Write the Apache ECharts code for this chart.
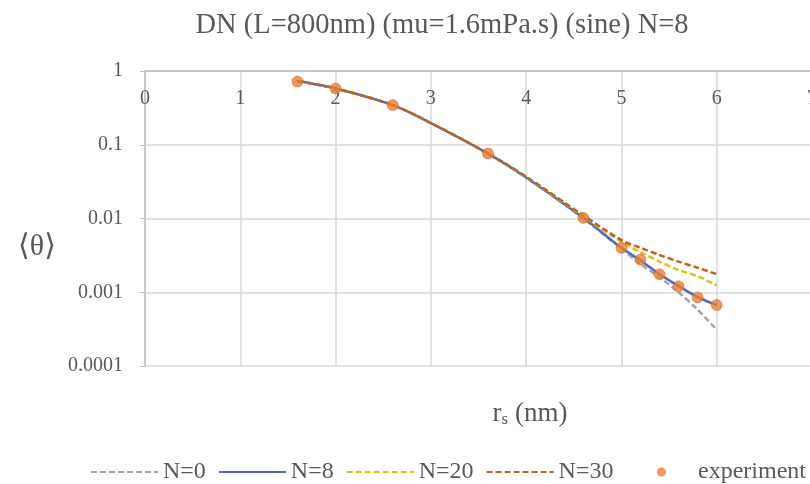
<!DOCTYPE html>
<html>
<head>
<meta charset="utf-8">
<script src="https://cdn.jsdelivr.net/npm/echarts@6/dist/echarts.min.js"></script>
<style>
  html, body { margin: 0; padding: 0; background: #fff; }
  #chart { width: 810px; height: 484px; }
</style>
</head>
<body>
<div id="chart"></div>
<script>
// curve sample positions (r_s, nm)
const curveX = [1.6, 2, 2.6, 3, 3.6, 4, 4.6, 5, 5.2, 5.4, 5.6, 5.8, 6];
const n0 = [0.73, 0.58, 0.345, 0.197, 0.076, 0.036, 0.0100, 0.0039, 0.0024, 0.0016, 0.00100, 0.00058, 0.00031];
const n8 = [0.73, 0.58, 0.345, 0.197, 0.076, 0.036, 0.0102, 0.0040, 0.0027, 0.00175, 0.00121, 0.00086, 0.00067];
const n20 = [0.73, 0.58, 0.345, 0.197, 0.076, 0.0365, 0.0107, 0.0048, 0.0035, 0.0026, 0.0020, 0.00165, 0.00124];
const n30 = [0.73, 0.58, 0.345, 0.197, 0.076, 0.037, 0.0110, 0.0051, 0.0040, 0.0032, 0.0026, 0.00215, 0.00176];

// experiment points
const expX = [1.6, 2, 2.6, 3.6, 4.6, 5, 5.2, 5.4, 5.6, 5.8, 6];
const expY = [0.72, 0.58, 0.345, 0.076, 0.0102, 0.0040, 0.00277, 0.00175, 0.0012, 0.00085, 0.00067];

const yTickLabels = ["0.0001", "0.001", "0.01", "0.1", "1"];

const serif = "'Liberation Serif', 'DejaVu Serif', serif";
const textColor = "#595959";

const pairs = (xs, ys) => xs.map((x, i) => [x, ys[i]]);

const lineSeries = (name, data, color, type) => ({
  name,
  type: "line",
  smooth: 0.3,
  symbol: "none",
  data: pairs(curveX, data),
  lineStyle: { color, width: 2.5, type },
  itemStyle: { color },
  z: 2
});

const chart = echarts.init(document.getElementById("chart"), null, { renderer: "canvas" });

chart.setOption({
  animation: false,
  backgroundColor: "#fff",
  title: [
    {
      text: "DN (L=800nm) (mu=1.6mPa.s) (sine) N=8",
      left: 437,
      top: 6,
      textAlign: "center",
      textStyle: { fontFamily: serif, fontSize: 28.5, fontWeight: "normal", color: textColor }
    },
    {
      text: "{r|r}{s|s}{p| (nm)}",
      left: 525,
      top: 394,
      textAlign: "center",
      textStyle: {
        rich: {
          r: { fontFamily: serif, fontSize: 27, fontWeight: "normal", color: textColor },
          s: { fontFamily: serif, fontSize: 17, fontWeight: "normal", color: textColor, verticalAlign: "bottom", padding: [12, 0, 0, 0] },
          p: { fontFamily: serif, fontSize: 27, fontWeight: "normal", color: textColor }
        }
      }
    },
    {
      text: "⟨θ⟩",
      left: 32,
      top: 227,
      textAlign: "center",
      textStyle: { fontFamily: serif, fontSize: 30, fontWeight: "normal", color: textColor }
    }
  ],
  legend: [
    {
      left: 85,
      top: 455,
      itemWidth: 67,
      itemHeight: 10,
      itemGap: 12,
      textStyle: { fontFamily: serif, fontSize: 24, color: textColor },
      data: [
        { name: "N=0", itemStyle: { opacity: 0 } },
        { name: "N=8", itemStyle: { opacity: 0 } },
        { name: "N=20", itemStyle: { opacity: 0 } },
        { name: "N=30", itemStyle: { opacity: 0 } }
      ]
    },
    {
      left: 652,
      top: 455,
      itemWidth: 9,
      itemHeight: 9,
      textStyle: { fontFamily: serif, fontSize: 24, color: textColor, padding: [0, 0, 0, 27] },
      data: [{ name: "experiment", icon: "circle", itemStyle: { borderWidth: 0 } }]
    }
  ],
  grid: { left: 145, width: 667, top: 71, bottom: 118, containLabel: false, outerBoundsMode: "none" },
  xAxis: {
    type: "value",
    position: "top",
    min: 0,
    max: 7,
    interval: 1,
    axisLine: { show: true, lineStyle: { color: "#BFBFBF", width: 1.5 } },
    axisTick: { show: false },
    axisLabel: {
      inside: true,
      margin: 18,
      fontFamily: serif,
      fontSize: 20,
      color: textColor
    },
    splitLine: { show: true, lineStyle: { color: "#D9D9D9", width: 1.5 } }
  },
  yAxis: {
    type: "log",
    logBase: 10,
    min: 0.0001,
    max: 1,
    axisLine: { show: true, lineStyle: { color: "#BFBFBF", width: 1.5 } },
    axisTick: { show: true, length: 5, lineStyle: { color: "#BFBFBF" } },
    minorTick: { show: false },
    axisLabel: {
      margin: 22,
      fontFamily: serif,
      fontSize: 20,
      color: textColor,
      formatter: v => yTickLabels[Math.round(Math.log10(v)) + 4]
    },
    splitLine: { show: true, lineStyle: { color: "#D9D9D9", width: 1.5 } }
  },
  series: [
    lineSeries("N=0", n0, "#A5A5A5", [6, 3]),
    lineSeries("N=8", n8, "#4C6BC0", "solid"),
    lineSeries("N=20", n20, "#D9C21E", [6, 3]),
    lineSeries("N=30", n30, "#C2601C", [6, 3]),
    {
      name: "experiment",
      type: "scatter",
      symbol: "circle",
      symbolSize: 11,
      data: pairs(expX, expY),
      itemStyle: { color: "#ED7D31", borderColor: "#B8601E", borderWidth: 0.6 },
      z: 3
    }
  ]
});
</script>
</body>
</html>
